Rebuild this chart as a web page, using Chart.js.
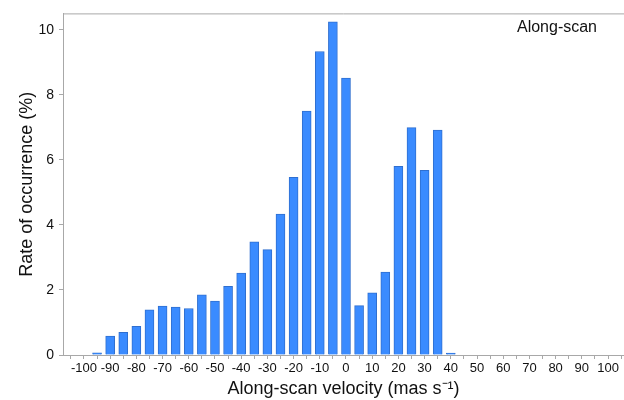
<!DOCTYPE html>
<html>
<head>
<meta charset="utf-8">
<script src="https://cdn.jsdelivr.net/npm/chart.js@4/dist/chart.umd.min.js"></script>
<style>
  html, body { margin: 0; padding: 0; background: #fff; }
  #wrap { width: 624px; height: 400px; }
</style>
</head>
<body>
<div id="wrap"><canvas id="grafVelocidade"></canvas></div>
<script>
const velocidades = [-100, -95, -90, -85, -80, -75, -70, -65, -60, -55, -50, -45, -40, -35, -30, -25, -20, -15, -10, -5,
    0, 5, 10, 15, 20, 25, 30, 35, 40, 45, 50, 55, 60, 65, 70, 75, 80, 85, 90, 95, 100];
const taxas = [0, 0.07, 0.58, 0.70, 0.88, 1.39, 1.50, 1.47, 1.43, 1.85, 1.66, 2.11, 2.52, 3.48, 3.24, 4.33, 5.46, 7.50, 9.33, 10.24,
    8.51, 1.52, 1.91, 2.55, 5.80, 6.99, 5.68, 6.91, 0.06, 0, 0, 0, 0, 0, 0, 0, 0, 0, 0, 0, 0];
const yTicks = [0, 2, 4, 6, 8, 10];
const rotulo = "Along-scan";

const fonte = "'Liberation Sans', Arial, sans-serif";
const cinza = "#a8a8a8";

// linha superior da área do gráfico + rótulo no canto
const moldura = {
    id: "moldura",
    afterDraw(chart) {
        const { ctx, chartArea } = chart;
        ctx.save();
        ctx.strokeStyle = cinza;
        ctx.lineWidth = 1;
        ctx.beginPath();
        ctx.moveTo(chartArea.left, chartArea.top + 0.5);
        ctx.lineTo(chartArea.right, chartArea.top + 0.5);
        ctx.stroke();
        ctx.fillStyle = "#111";
        ctx.font = "16px " + fonte;
        ctx.textAlign = "right";
        ctx.textBaseline = "middle";
        ctx.fillText(rotulo, 597, 28);
        ctx.restore();
    }
};

new Chart(document.getElementById("grafVelocidade"), {
    type: "bar",
    data: {
        datasets: [{
            data: velocidades.map((v, i) => ({ x: v, y: taxas[i] })),
            backgroundColor: "#3a8bff",
            borderColor: "#2f6fd0",
            borderWidth: 1,
            barThickness: 9
        }]
    },
    options: {
        responsive: true,
        maintainAspectRatio: false,
        animation: false,
        layout: { padding: { top: 11, right: 0, left: 0, bottom: 0 } },
        plugins: { legend: { display: false }, tooltip: { enabled: false } },
        scales: {
            x: {
                type: "linear",
                offset: false,
                min: -108,
                max: 106.1,
                afterFit: s => { s.height = 45; },
                border: { color: cinza },
                grid: { drawOnChartArea: false, offset: false, color: cinza, tickLength: 4 },
                ticks: {
                    stepSize: 5,
                    includeBounds: false,
                    autoSkip: false,
                    maxRotation: 0,
                    padding: 2,
                    color: "#111",
                    font: { family: fonte, size: 13 },
                    callback: v => (v % 10 === 0 ? String(v) : "")
                },
                title: {
                    display: true,
                    text: "Along-scan velocity (mas s\u207B\u00B9)",
                    color: "#111",
                    font: { family: fonte, size: 18 },
                    padding: { top: 0, bottom: 0 }
                }
            },
            y: {
                min: 0,
                max: 10.5,
                afterFit: s => { s.width = 63; },
                afterBuildTicks: s => { s.ticks = yTicks.map(v => ({ value: v })); },
                border: { color: cinza },
                grid: { drawOnChartArea: false, color: cinza, tickLength: 4 },
                ticks: {
                    padding: 5,
                    color: "#111",
                    font: { family: fonte, size: 14 }
                },
                title: {
                    display: true,
                    text: "Rate of occurrence (%)",
                    color: "#111",
                    font: { family: fonte, size: 18 },
                    padding: { top: 16, bottom: 0 }
                }
            }
        }
    },
    plugins: [moldura]
});
</script>
</body>
</html>
